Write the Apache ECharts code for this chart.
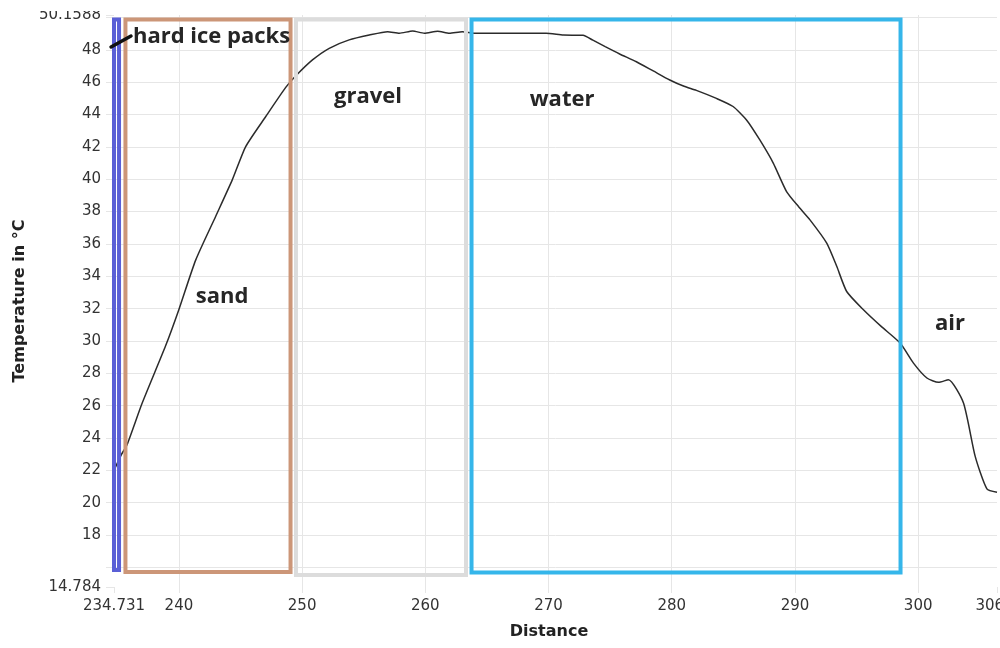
<!DOCTYPE html>
<html>
<head>
<meta charset="utf-8">
<script src="https://cdn.jsdelivr.net/npm/echarts@6/dist/echarts.min.js"></script>
<style>
  html, body { margin: 0; padding: 0; background: #fff; }
  #chart { width: 1000px; height: 648px; }
</style>
</head>
<body>
<div id="chart"></div>
<script>
// Temperature profile along the probe
const distance = [
  234.731, 235.33, 235.8, 237.02, 238.92, 240.0, 241.36, 242.98, 244.33, 245.42,
  247.05, 248.67, 249.49, 250.84, 252.2, 253.82, 255.45, 256.94, 257.89, 258.97,
  259.92, 261.0, 261.95, 263.0, 264.0, 266.0, 268.0, 269.8, 271.2, 272.8,
  273.6, 274.6, 275.77, 277.13, 278.5, 279.84, 281.0, 282.0, 283.63, 284.98,
  286.07, 287.15, 288.24, 289.32, 290.3, 291.22, 292.58, 293.4, 294.2, 295.56,
  297.0, 298.54, 299.62, 300.71, 301.65, 302.46, 303.68, 304.63, 305.58, 306.4
];
const temperature = [
  22.0, 22.97, 23.6, 26.16, 29.7, 31.95, 35.0, 37.7, 39.96, 42.02,
  43.88, 45.68, 46.4, 47.38, 48.1, 48.62, 48.92, 49.13, 49.03, 49.17,
  49.03, 49.15, 49.03, 49.13, 49.03, 49.03, 49.03, 49.03, 48.92, 48.9,
  48.6, 48.2, 47.75, 47.27, 46.7, 46.14, 45.75, 45.5, 45.0, 44.5,
  43.67, 42.43, 41.0, 39.24, 38.3, 37.49, 36.05, 34.6, 33.06, 31.93,
  30.9, 29.87, 28.63, 27.71, 27.44, 27.6, 26.16, 22.86, 20.85, 20.64
];

// Axis extents and tick labels
const xMin = 234.731, xMax = 306.4;
const yMin = 14.784, yMax = 50.1588;
const xTicks = [240, 250, 260, 270, 280, 290, 300];
const xLabels = [234.731, 240, 250, 260, 270, 280, 290, 300, 306.4];
const yTicks = [16, 18, 20, 22, 24, 26, 28, 30, 32, 34, 36, 38, 40, 42, 44, 46, 48, 50];
const yLabels = [14.784, 18, 20, 22, 24, 26, 28, 30, 32, 34, 36, 38, 40, 42, 44, 46, 48, 50.1588];

// Material layers (distance ranges) and their frame colours
const layerNames = ['hard ice packs', 'sand', 'gravel', 'water'];
const layerFrom  = [234.49, 235.66, 249.50, 263.75];
const layerTo    = [235.14, 249.06, 263.30, 298.57];
const layerTop   = [49.88, 49.88, 49.88, 49.88];
const layerBottom= [15.84, 15.71, 15.53, 15.68];
const layerColors = ['#5a5fd6', '#cc9678', '#dcdcdc', '#35b6ea'];

// Text labels for each zone
const zoneNames = ['hard ice packs', 'sand', 'gravel', 'water', 'air'];
const zoneX = [236.27, 243.5, 255.35, 271.1, 302.59];
const zoneY = [48.80, 32.72, 45.09, 44.9, 31.05];
const zoneAlign = ['left', 'center', 'center', 'center', 'center'];
const pointerFrom = [234.49, 48.18];
const pointerTo = [236.11, 48.86];

const chart = echarts.init(document.getElementById('chart'), null, { renderer: 'canvas' });

const gridColor = '#e6e6e6';
const tickFont = { fontFamily: 'DejaVu Sans', fontSize: 15, color: '#333' };
const titleFont = { fontFamily: 'DejaVu Sans', fontWeight: 'bold', fontSize: 16, color: '#222' };

const option = {
  animation: false,
  backgroundColor: '#fff',
  grid: { left: 114, right: 3, top: 15, bottom: 61, containLabel: false, outerBoundsMode: 'none' },
  xAxis: {
    type: 'value',
    min: xMin,
    max: xMax,
    name: 'Distance',
    nameLocation: 'middle',
    nameGap: 37,
    nameTextStyle: Object.assign({ padding: [0, 13, 0, 0] }, titleFont),
    axisLine: { show: false },
    axisTick: { show: true, length: 6, lineStyle: { color: gridColor }, customValues: [xMin].concat(xTicks, [xMax]) },
    axisLabel: Object.assign({ margin: 12, customValues: xLabels,
      formatter: v => String(v) }, tickFont),
    splitLine: { show: true, showMinLine: false, showMaxLine: false, lineStyle: { color: gridColor, width: 1 } }
  },
  yAxis: {
    type: 'value',
    min: yMin,
    max: yMax,
    name: 'Temperature in °C',
    nameLocation: 'middle',
    nameGap: 82,
    nameTextStyle: titleFont,
    axisLine: { show: false },
    axisTick: { show: true, length: 8, lineStyle: { color: gridColor }, customValues: [yMin].concat(yTicks, [yMax]) },
    axisLabel: Object.assign({ margin: 13, customValues: yLabels,
      formatter: v => String(v) }, tickFont),
    splitLine: { show: true, showMinLine: false, showMaxLine: false, lineStyle: { color: gridColor, width: 1 } }
  },
  series: [{
    type: 'line',
    data: distance.map((d, i) => [d, temperature[i]]),
    showSymbol: false,
    smooth: 0.2,
    clip: false,
    lineStyle: { color: '#2b2b2b', width: 1.5 },
    z: 2,
    markArea: {
      silent: true,
      z: 5,
      data: layerNames.map((n, i) => [
        { name: n, xAxis: layerFrom[i], yAxis: layerTop[i],
          itemStyle: { color: 'rgba(0,0,0,0)', borderColor: layerColors[i], borderWidth: 4 } },
        { xAxis: layerTo[i], yAxis: layerBottom[i] }
      ]),
      label: { show: false }
    }
  }]
};

chart.setOption(option);

// Zone captions and the pointer for the thin ice layer, placed in data space
const elements = zoneNames.map((name, i) => {
  const p = chart.convertToPixel({ gridIndex: 0 }, [zoneX[i], zoneY[i]]);
  return {
    type: 'text',
    x: p[0], y: p[1], z: 100,
    style: {
      text: name,
      fontFamily: 'Open Sans', fontWeight: 'bold', fontSize: 22,
      fill: '#262626', align: zoneAlign[i], verticalAlign: 'middle'
    }
  };
});
const a = chart.convertToPixel({ gridIndex: 0 }, pointerFrom);
const b = chart.convertToPixel({ gridIndex: 0 }, pointerTo);
elements.push({
  type: 'line', z: 100,
  shape: { x1: a[0], y1: a[1], x2: b[0], y2: b[1] },
  style: { stroke: '#111', lineWidth: 3.5, lineCap: 'round' }
});
// the page edge trims the top of the uppermost value label
elements.push({
  type: 'rect', z: 100,
  shape: { x: 0, y: 0, width: 110, height: 11 },
  style: { fill: '#fff' }
});
chart.setOption({ graphic: { elements: elements } });
</script>
</body>
</html>
